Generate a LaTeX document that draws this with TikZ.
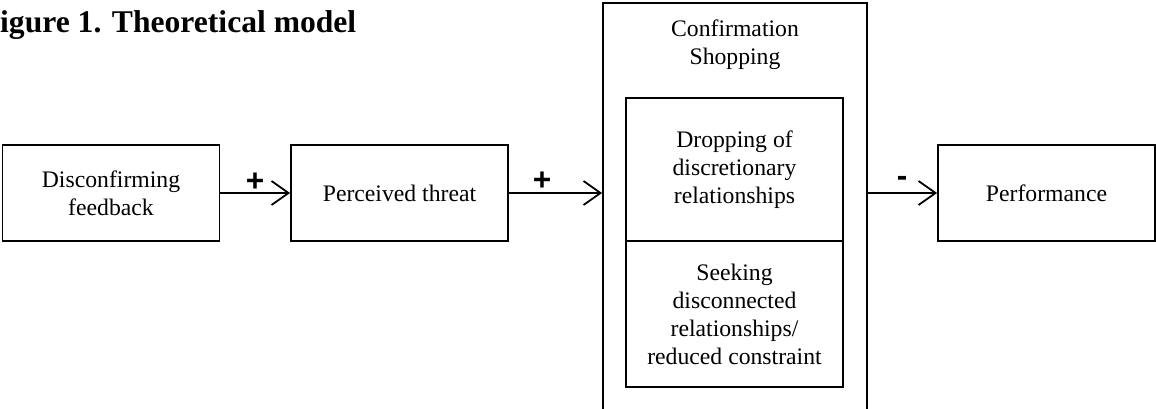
\documentclass[tikz,border=0pt]{standalone}
\usepackage{fontspec}
\setmainfont{Liberation Serif}
\newfontfamily\signfont{Liberation Sans}
\usetikzlibrary{arrows.meta}
\tikzset{
  x=1pt, y=-1pt,
  body/.style={font=\fontsize{23.7}{28}\selectfont, align=center},
  box/.style={draw, line width=1.8pt, inner sep=0pt, minimum width=217pt, body},
  conn/.style={line width=1.8pt, -{Straight Barb[length=17pt, width=24pt, line width=1.8pt]}},
  sign/.style={font=\signfont\bfseries\fontsize{31.6}{32}\selectfont, inner sep=0pt},
  titletext/.style={font=\bfseries\fontsize{31.6}{36}\selectfont, inner sep=0pt, anchor=base west}
}
\begin{document}
\begin{tikzpicture}
\useasboundingbox (0,0) rectangle (1156,408);
\node[titletext] (title) at (0,32) {igure 1. Theoretical model};

\node[box, minimum height=96pt] (df) at (111,193) {Disconfirming\\feedback};
\node[box, minimum height=96pt] (pt) at (399.5,193) {Perceived threat};
\node[box, minimum height=96pt] (pf) at (1046.5,193) {Performance};

\node[draw, line width=1.8pt, inner sep=0pt, minimum width=264pt, minimum height=417pt] (cs) at (735,211.5) {};
\node[body, inner sep=0pt] (cst) at (735,44.5) {Confirmation\\Shopping};
\node[box, minimum height=143pt] (drop) at (734.5,169.5) {Dropping of\\discretionary\\relationships};
\node[box, minimum height=146pt] (seek) at (734.5,314) {Seeking\\disconnected\\relationships/\\reduced constraint};

\draw[conn] (df.east) -- (pt.west);
\draw[conn] (pt.east) -- (pt.east -| cs.west);
\draw[conn] (cs.east |- pf.west) -- (pf.west);

\node[sign] (s1) at (255,182) {+};
\node[sign] (s2) at (542,181) {+};
\node[sign] (s3) at (902,181) {-};
\end{tikzpicture}
\end{document}
